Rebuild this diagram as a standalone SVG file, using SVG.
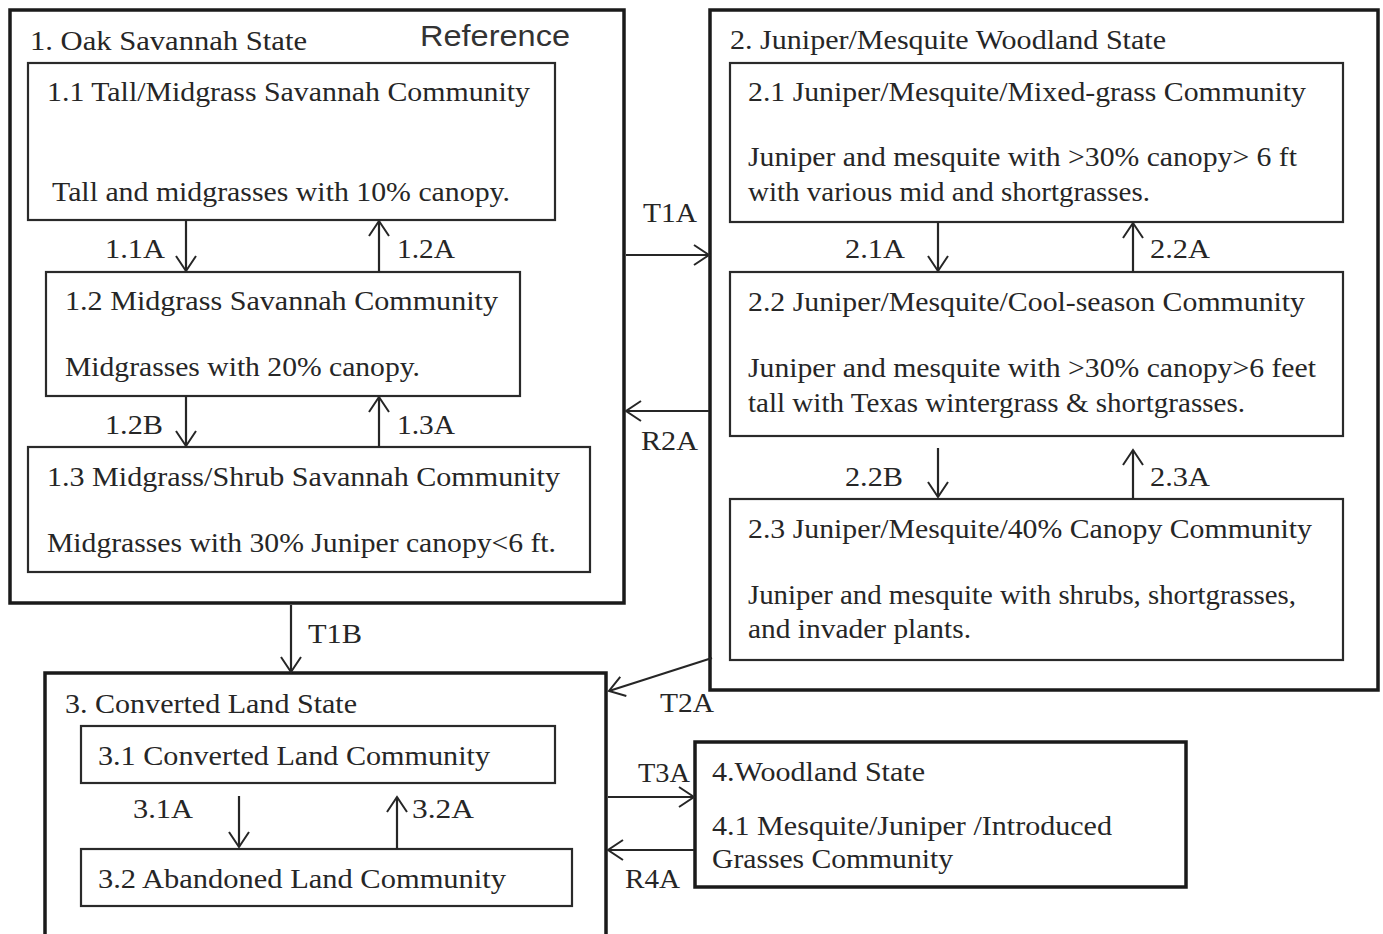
<svg xmlns="http://www.w3.org/2000/svg" width="1383" height="934" viewBox="0 0 1383 934">
<style>
.state{fill:none;stroke:#1a1a1a;stroke-width:3.5}
.comm{fill:none;stroke:#2a2a2a;stroke-width:2.2}
.t{font-family:"Liberation Serif","Times New Roman",serif;font-size:27.5px;fill:#262626}
.lbl{font-family:"Liberation Serif","Times New Roman",serif;font-size:28px;fill:#262626}
.ref{font-family:"Liberation Sans",Arial,sans-serif;font-size:30px;fill:#333}
.c{fill:none;stroke:#262626;stroke-width:2.2}
</style>
<defs>
<marker id="ah" markerUnits="userSpaceOnUse" markerWidth="18" markerHeight="22" refX="16" refY="11" orient="auto">
<path d="M1,1 L16,11 L1,21" fill="none" stroke="#262626" stroke-width="2"/>
</marker>
</defs>
<rect width="1383" height="934" fill="#fff"/>

<g id="state1">
<rect class="state" x="10" y="10" width="614" height="593"/>
<text class="t" x="30" y="50" textLength="277" lengthAdjust="spacingAndGlyphs">1. Oak Savannah State</text>
<text class="ref" x="420" y="46" textLength="150" lengthAdjust="spacingAndGlyphs">Reference</text>
</g>
<g id="c11">
<rect class="comm" x="28" y="63" width="527" height="157"/>
<text class="t" x="47" y="101" textLength="483" lengthAdjust="spacingAndGlyphs">1.1 Tall/Midgrass Savannah Community</text>
<text class="t" x="52" y="201" textLength="458" lengthAdjust="spacingAndGlyphs">Tall and midgrasses with 10% canopy.</text>
</g>
<g id="c12">
<rect class="comm" x="46" y="272" width="474" height="124"/>
<text class="t" x="65" y="310" textLength="433" lengthAdjust="spacingAndGlyphs">1.2 Midgrass Savannah Community</text>
<text class="t" x="65" y="376" textLength="355" lengthAdjust="spacingAndGlyphs">Midgrasses with 20% canopy.</text>
</g>
<g id="c13">
<rect class="comm" x="28" y="447" width="562" height="125"/>
<text class="t" x="47" y="486" textLength="513" lengthAdjust="spacingAndGlyphs">1.3 Midgrass/Shrub Savannah Community</text>
<text class="t" x="47" y="552" textLength="509" lengthAdjust="spacingAndGlyphs">Midgrasses with 30% Juniper canopy&lt;6 ft.</text>
</g>

<g id="state2">
<rect class="state" x="710" y="10" width="668" height="680"/>
<text class="t" x="730" y="49" textLength="436" lengthAdjust="spacingAndGlyphs">2. Juniper/Mesquite Woodland State</text>
</g>
<g id="c21">
<rect class="comm" x="730" y="63" width="613" height="159"/>
<text class="t" x="748" y="101" textLength="558" lengthAdjust="spacingAndGlyphs">2.1 Juniper/Mesquite/Mixed-grass Community</text>
<text class="t" x="748" y="166" textLength="549" lengthAdjust="spacingAndGlyphs">Juniper and mesquite with &gt;30% canopy&gt; 6 ft</text>
<text class="t" x="748" y="201" textLength="402" lengthAdjust="spacingAndGlyphs">with various mid and shortgrasses.</text>
</g>
<g id="c22">
<rect class="comm" x="730" y="272" width="613" height="164"/>
<text class="t" x="748" y="311" textLength="557" lengthAdjust="spacingAndGlyphs">2.2 Juniper/Mesquite/Cool-season Community</text>
<text class="t" x="748" y="377" textLength="568" lengthAdjust="spacingAndGlyphs">Juniper and mesquite with &gt;30% canopy&gt;6 feet</text>
<text class="t" x="748" y="412" textLength="497" lengthAdjust="spacingAndGlyphs">tall with Texas wintergrass &amp; shortgrasses.</text>
</g>
<g id="c23">
<rect class="comm" x="730" y="499" width="613" height="161"/>
<text class="t" x="748" y="538" textLength="564" lengthAdjust="spacingAndGlyphs">2.3 Juniper/Mesquite/40% Canopy Community</text>
<text class="t" x="748" y="604" textLength="548" lengthAdjust="spacingAndGlyphs">Juniper and mesquite with shrubs, shortgrasses,</text>
<text class="t" x="748" y="638" textLength="223" lengthAdjust="spacingAndGlyphs">and invader plants.</text>
</g>

<g id="state3">
<rect class="state" x="45" y="673" width="561" height="265"/>
<text class="t" x="65" y="713" textLength="292" lengthAdjust="spacingAndGlyphs">3. Converted Land State</text>
</g>
<g id="c31">
<rect class="comm" x="81" y="726" width="474" height="57"/>
<text class="t" x="98" y="765" textLength="392" lengthAdjust="spacingAndGlyphs">3.1 Converted Land Community</text>
</g>
<g id="c32">
<rect class="comm" x="81" y="849" width="491" height="57"/>
<text class="t" x="98" y="888" textLength="408" lengthAdjust="spacingAndGlyphs">3.2 Abandoned Land Community</text>
</g>

<g id="state4">
<rect class="state" x="695" y="742" width="491" height="145"/>
<text class="t" x="712" y="781" textLength="213" lengthAdjust="spacingAndGlyphs">4.Woodland State</text>
<text class="t" x="712" y="835" textLength="400" lengthAdjust="spacingAndGlyphs">4.1 Mesquite/Juniper /Introduced</text>
<text class="t" x="712" y="868" textLength="241" lengthAdjust="spacingAndGlyphs">Grasses Community</text>
</g>

<g id="connectors">
<line class="c" x1="186" y1="220" x2="186" y2="271" marker-end="url(#ah)"/>
<line class="c" x1="379" y1="272" x2="379" y2="221" marker-end="url(#ah)"/>
<line class="c" x1="186" y1="396" x2="186" y2="446" marker-end="url(#ah)"/>
<line class="c" x1="379" y1="447" x2="379" y2="397" marker-end="url(#ah)"/>
<line class="c" x1="938" y1="222" x2="938" y2="271" marker-end="url(#ah)"/>
<line class="c" x1="1133" y1="272" x2="1133" y2="223" marker-end="url(#ah)"/>
<line class="c" x1="938" y1="448" x2="938" y2="497" marker-end="url(#ah)"/>
<line class="c" x1="1133" y1="499" x2="1133" y2="450" marker-end="url(#ah)"/>
<line class="c" x1="626" y1="255" x2="709" y2="255" marker-end="url(#ah)"/>
<line class="c" x1="709" y1="411" x2="626" y2="411" marker-end="url(#ah)"/>
<line class="c" x1="291" y1="605" x2="291" y2="672" marker-end="url(#ah)"/>
<line class="c" x1="712" y1="658" x2="609" y2="691" marker-end="url(#ah)"/>
<line class="c" x1="239" y1="796" x2="239" y2="847" marker-end="url(#ah)"/>
<line class="c" x1="397" y1="849" x2="397" y2="797" marker-end="url(#ah)"/>
<line class="c" x1="608" y1="797" x2="694" y2="797" marker-end="url(#ah)"/>
<line class="c" x1="694" y1="850" x2="608" y2="850" marker-end="url(#ah)"/>
<text class="lbl" x="105" y="258" textLength="60" lengthAdjust="spacingAndGlyphs">1.1A</text>
<text class="lbl" x="397" y="258" textLength="58" lengthAdjust="spacingAndGlyphs">1.2A</text>
<text class="lbl" x="105" y="434" textLength="58" lengthAdjust="spacingAndGlyphs">1.2B</text>
<text class="lbl" x="397" y="434" textLength="58" lengthAdjust="spacingAndGlyphs">1.3A</text>
<text class="lbl" x="845" y="258" textLength="60" lengthAdjust="spacingAndGlyphs">2.1A</text>
<text class="lbl" x="1150" y="258" textLength="60" lengthAdjust="spacingAndGlyphs">2.2A</text>
<text class="lbl" x="845" y="486" textLength="58" lengthAdjust="spacingAndGlyphs">2.2B</text>
<text class="lbl" x="1150" y="486" textLength="60" lengthAdjust="spacingAndGlyphs">2.3A</text>
<text class="lbl" x="643" y="222" textLength="54" lengthAdjust="spacingAndGlyphs">T1A</text>
<text class="lbl" x="641" y="450" textLength="57" lengthAdjust="spacingAndGlyphs">R2A</text>
<text class="lbl" x="308" y="643" textLength="54" lengthAdjust="spacingAndGlyphs">T1B</text>
<text class="lbl" x="660" y="712" textLength="54" lengthAdjust="spacingAndGlyphs">T2A</text>
<text class="lbl" x="133" y="818" textLength="60" lengthAdjust="spacingAndGlyphs">3.1A</text>
<text class="lbl" x="412" y="818" textLength="62" lengthAdjust="spacingAndGlyphs">3.2A</text>
<text class="lbl" x="638" y="782" textLength="52" lengthAdjust="spacingAndGlyphs">T3A</text>
<text class="lbl" x="625" y="888" textLength="55" lengthAdjust="spacingAndGlyphs">R4A</text>
</g>
</svg>
